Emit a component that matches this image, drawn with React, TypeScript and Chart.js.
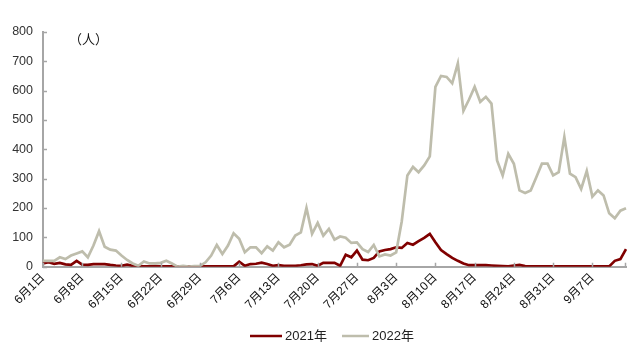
import React, { useEffect, useRef } from "react";
import { Chart, registerables } from "chart.js";

Chart.register(...registerables);

// Categories: daily dates from 6月1日 to 9月13日
const monthSpans: [number, number][] = [
  [6, 30],
  [7, 31],
  [8, 31],
  [9, 13],
];
const dateLabels: string[] = [];
for (const [m, n] of monthSpans) {
  for (let d = 1; d <= n; d++) dateLabels.push(`${m}月${d}日`);
}

const seriesNames = ["2021年", "2022年"];

const values2021 = [
  11, 15, 10, 13, 8, 6, 20, 7, 6, 9,
  9, 9, 6, 4, 3, 7, 3, 2, 1, 1,
  2, 1, 1, 1, 1, 1, 1, 1, 1, 1,
  1, 1, 1, 1, 1, 17, 3, 9, 10, 14,
  9, 3, 5, 3, 3, 3, 5, 8, 9, 3,
  13, 13, 13, 3, 41, 32, 55, 24, 22, 30,
  52, 57, 60, 66, 64, 81, 75, 87, 98, 112,
  83, 57, 43, 30, 20, 11, 5, 5, 5, 5,
  4, 3, 2, 1, 4, 6, 2, 1, 1, 1,
  1, 1, 1, 1, 1, 1, 1, 1, 1, 1,
  1, 1, 20, 26, 60,
];

const values2022 = [
  20, 20, 20, 32, 26, 38, 45, 52, 32, 72,
  121, 68, 58, 55, 38, 23, 11, 3, 18, 11,
  11, 13, 20, 11, 0, 3, 0, 2, 3, 15,
  38, 74, 43, 72, 114, 95, 49, 66, 66, 46,
  69, 55, 83, 66, 75, 106, 117, 200, 112, 149,
  106, 129, 92, 103, 99, 81, 83, 60, 50, 74,
  35, 42, 38, 49, 155, 311, 340, 322, 345, 376,
  613, 650, 647, 625, 693, 531, 570, 613, 562, 579,
  556, 362, 311, 385, 351, 260, 251, 260, 305, 351,
  351, 311, 322, 442, 317, 305, 265, 326, 239, 260,
  243, 182, 165, 191, 199,
];

const yMax = 800;
const yStep = 100;
const unitLabel = "（人）";

const FONT = "'Liberation Sans', Arial, 'Noto Sans CJK SC', sans-serif";
const COLOR_2021 = "#800000";
const COLOR_2022 = "#BEBDAC";
const AXIS_COLOR = "#A6A6A6";

export default function App() {
  const canvasRef = useRef<HTMLCanvasElement | null>(null);

  useEffect(() => {
    document.body.style.margin = "0";
    const canvas = canvasRef.current;
    if (!canvas) return;

    const decor = {
      id: "decor",
      afterDraw(chart: any) {
        const ctx = chart.ctx;
        const xs = chart.scales.x;
        const ys = chart.scales.y;
        const area = chart.chartArea;
        ctx.save();
        // inward tick marks
        ctx.strokeStyle = AXIS_COLOR;
        ctx.lineWidth = 1.5;
        ctx.beginPath();
        for (let i = 0; i < dateLabels.length; i += 7) {
          const px = Math.round(xs.getPixelForValue(i)) + 0.5;
          ctx.moveTo(px, area.bottom);
          ctx.lineTo(px, area.bottom - 4);
        }
        const pxEnd = Math.round(xs.getPixelForValue(dateLabels.length - 1)) - 0.5;
        ctx.moveTo(pxEnd, area.bottom);
        ctx.lineTo(pxEnd, area.bottom - 4);
        for (let v = 0; v <= yMax; v += yStep) {
          const py = Math.round(ys.getPixelForValue(v)) + 0.5;
          ctx.moveTo(area.left, py);
          ctx.lineTo(area.left + 4, py);
        }
        ctx.stroke();

        // unit label
        ctx.fillStyle = "#111";
        ctx.font = `13px ${FONT}`;
        ctx.textBaseline = "middle";
        ctx.textAlign = "left";
        ctx.fillText(unitLabel, 69, 40);

        // legend
        const ly = 336;
        ctx.lineWidth = 2.5;
        ctx.strokeStyle = COLOR_2021;
        ctx.beginPath();
        ctx.moveTo(250, ly);
        ctx.lineTo(282, ly);
        ctx.stroke();
        ctx.strokeStyle = COLOR_2022;
        ctx.beginPath();
        ctx.moveTo(342, ly);
        ctx.lineTo(369, ly);
        ctx.stroke();
        ctx.fillStyle = "#222";
        ctx.font = `13px ${FONT}`;
        ctx.fillText(seriesNames[0], 285, ly);
        ctx.fillText(seriesNames[1], 372, ly);
        ctx.restore();
      },
    };

    const chart = new Chart(canvas, {
      type: "line",
      data: {
        labels: dateLabels,
        datasets: [
          {
            label: seriesNames[0],
            data: values2021,
            borderColor: COLOR_2021,
            backgroundColor: COLOR_2021,
            borderWidth: 2.7,
            pointRadius: 0,
            tension: 0,
            order: 1,
          },
          {
            label: seriesNames[1],
            data: values2022,
            borderColor: COLOR_2022,
            backgroundColor: COLOR_2022,
            borderWidth: 2.7,
            pointRadius: 0,
            tension: 0,
            order: 0,
          },
        ],
      },
      options: {
        animation: false,
        responsive: false,
        maintainAspectRatio: false,
        layout: { padding: { top: 32, right: 15, bottom: 35, left: 0 } },
        plugins: {
          legend: { display: false },
          tooltip: { enabled: false },
        },
        scales: {
          x: {
            type: "category",
            offset: false,
            grid: { display: false, drawTicks: false },
            border: { display: true, color: AXIS_COLOR, width: 2 },
            ticks: {
              autoSkip: false,
              minRotation: 45,
              maxRotation: 45,
              padding: 4,
              color: "#111",
              font: { family: FONT, size: 12 },
              callback: (_v: any, i: number) => (i % 7 === 0 ? dateLabels[i] : ""),
            },
          },
          y: {
            min: 0,
            max: yMax,
            grid: { display: false, drawTicks: false },
            border: { display: true, color: AXIS_COLOR, width: 2 },
            ticks: {
              stepSize: yStep,
              padding: 10,
              color: "#333",
              font: { family: FONT, size: 12.5 },
            },
            afterFit: (s: any) => {
              s.width = 43;
            },
          },
        },
      },
      plugins: [decor],
    });

    return () => chart.destroy();
  }, []);

  return (
    <div style={{ width: 641, height: 351, position: "relative", background: "#fff" }}>
      <canvas ref={canvasRef} width={641} height={351} style={{ display: "block" }} />
    </div>
  );
}
